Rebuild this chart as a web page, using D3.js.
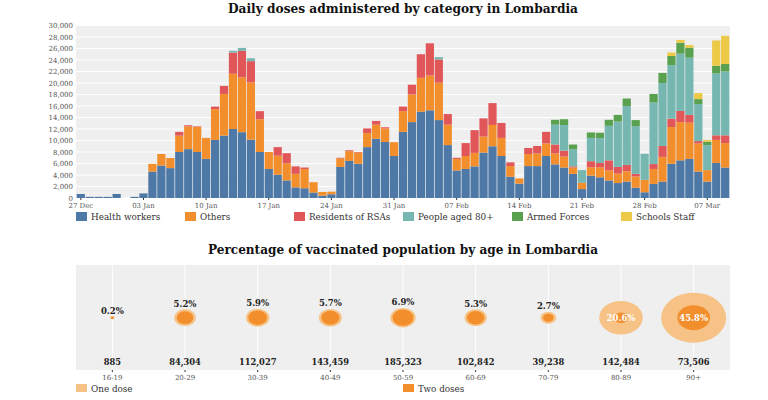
<!DOCTYPE html>
<meta charset="utf-8">
<script src="https://d3js.org/d3.v7.min.js"></script>

<style>
body { margin: 0; background: #fff; }
text { font-family: "DejaVu Serif", serif; }
.graphTitle { font-size: 12.5px; font-weight: 700; fill: #111; }
.axisText { font-size: 7px; fill: #555; }
.legendText { font-size: 8.8px; fill: #333; }
.pct { font-size: 8.5px; font-weight: 700; fill: #222; }
.total { font-size: 8.3px; font-weight: 700; fill: #222; }
</style>

<div id="my_dataviz"></div>

<script>

// daily doses, 27 Dec to 09 Mar
const days = d3.timeDay.range(new Date(2020, 11, 27), new Date(2021, 2, 10));
const healthWorkers = [700,200,200,200,700,0,200,800,4600,5650,5200,8000,8500,8000,6800,10100,10850,12000,11450,10150,8000,5050,4050,3050,1850,1700,950,400,650,5400,6450,5950,8850,10300,9750,7300,11500,13200,15000,15250,13550,9200,4800,5050,5500,7900,9000,7300,3700,2500,5550,5550,7300,5850,5300,4200,1550,3900,3600,3050,2600,2850,1800,1000,2450,2850,5950,6550,6800,4600,2850,6100,5300];
const others = [0,0,0,0,0,0,0,0,1350,2000,1750,2850,3950,4350,3650,5350,7250,9600,9550,9950,5700,2950,3300,3000,2350,3350,1800,650,450,1500,1700,1950,2450,2450,2350,2400,3600,4800,5900,6050,6500,3550,2000,2250,2350,2800,3700,3150,1850,900,2100,2200,2200,1900,1900,1100,1100,1450,1750,1750,1650,1800,1950,2150,2600,4300,6400,6650,6300,4900,2000,4000,4250];
const residents = [0,0,0,0,0,0,0,0,0,0,0,650,200,100,0,450,1400,3700,4600,3700,1400,0,1500,1750,1300,250,0,0,0,100,150,100,800,650,200,0,800,1700,4100,5600,4050,1850,200,2250,3950,3150,3800,2600,650,0,1050,1300,2000,1550,1050,200,0,1050,750,1750,1150,1100,450,0,850,1900,1450,1950,1350,400,0,800,1350];
const aged80 = [0,0,0,0,0,0,0,0,0,0,0,0,0,0,0,0,0,300,500,500,0,0,0,0,0,0,0,0,0,0,0,0,0,0,0,0,0,0,0,0,400,0,0,0,0,0,0,0,0,0,0,0,0,3450,4450,3000,2200,4050,4300,6000,7900,10250,8300,4550,10700,10950,9300,9950,9950,6450,4350,10750,11100];
const armedForces = [0,0,0,0,0,0,0,0,0,0,0,0,0,0,0,0,0,0,0,0,0,0,0,0,0,0,0,0,0,0,0,0,0,0,0,0,0,0,0,0,0,0,0,0,0,0,0,0,0,0,0,0,0,850,1000,800,0,950,950,1050,1150,1300,1050,0,1500,1750,1600,1900,1750,850,600,1350,1300];
const schoolsStaff = [0,0,0,0,0,0,0,0,0,0,0,0,0,0,0,0,0,0,0,0,0,0,0,0,0,0,0,0,0,0,0,0,0,0,0,0,0,0,0,0,0,0,0,0,0,0,0,0,0,0,0,0,0,0,0,0,0,0,0,0,0,0,0,0,0,0,600,500,450,1050,300,4400,4900];
const categories = ["Health workers", "Others", "Residents of RSAs", "People aged 80+", "Armed Forces", "Schools Staff"];
const categorySeries = [healthWorkers, others, residents, aged80, armedForces, schoolsStaff];
const categoryColors = ["#4e79a7", "#f28e2b", "#e15759", "#76b7b2", "#59a14f", "#edc948"];
const yTicks = d3.range(0, 30001, 2000);

// vaccinated population by age
const ageGroups = ["16-19", "20-29", "30-39", "40-49", "50-59", "60-69", "70-79", "80-89", "90+"];
const oneDose = [0.2, 5.2, 5.9, 5.7, 6.9, 5.3, 2.7, 20.6, 45.8];
const twoDoses = [0.1, 3.0, 3.8, 3.6, 4.8, 3.3, 1.2, 2.0, 11.5];
const ageTotals = [885, 84304, 112027, 143459, 185323, 102842, 39238, 142484, 73506];
const doseLabels = ["One dose", "Two doses"];
const doseColors = ["#f6c285", "#f28e2b"];

const svg = d3.select("#my_dataviz")
  .append("svg")
    .attr("width", 768)
    .attr("height", 400)
    .style("display", "block");

const plotLeft = 76, plotRight = 730;
// the picture is stretched sideways, so circles come out as ellipses
const stretch = 1.3;

// ---- top chart ----
svg.append("text")
    .attr("class", "graphTitle")
    .attr("text-anchor", "middle")
    .attr("x", 403)
    .attr("y", 13)
    .attr("textLength", 350)
    .attr("lengthAdjust", "spacingAndGlyphs")
    .text("Daily doses administered by category in Lombardia");

const y = d3.scaleLinear().domain([0, 30000]).range([198, 25.5]);
const x = d3.scaleBand().domain(days).range([plotLeft, plotRight]).padding(0.08);

svg.append("rect")
    .attr("x", plotLeft).attr("y", 26)
    .attr("width", plotRight - plotLeft).attr("height", 172)
    .attr("fill", "#efefef");

svg.append("g")
    .selectAll("line")
    .data(yTicks)
    .join("line")
    .attr("x1", plotLeft).attr("x2", plotRight)
    .attr("y1", d => y(d)).attr("y2", d => y(d))
    .attr("stroke", "#fff").attr("stroke-width", 1);

const yAxis = svg.append("g")
    .attr("transform", `translate(${plotLeft}, 0)`)
    .call(d3.axisLeft(y).tickValues(yTicks).tickSize(0).tickPadding(3).tickFormat(d3.format(",")));
yAxis.select(".domain").remove();
yAxis.selectAll("text").attr("class", "axisText");

const stack = d3.stack()
    .keys(d3.range(categories.length))
    .value((d, k) => categorySeries[k][d]);

svg.append("g")
    .selectAll("g")
    .data(stack(d3.range(days.length)))
    .join("g")
    .attr("fill", (d, i) => categoryColors[i])
    .selectAll("rect")
    .data(d => d)
    .join("rect")
    .attr("x", d => x(days[d.data]))
    .attr("y", d => y(d[1]))
    .attr("width", x.bandwidth())
    .attr("height", d => y(d[0]) - y(d[1]));

const xAxis = svg.append("g")
    .attr("transform", "translate(0, 198)")
    .call(d3.axisBottom(x)
      .tickValues(days.filter((d, i) => i % 7 === 0))
      .tickSize(2).tickPadding(3)
      .tickFormat(d3.timeFormat("%d %b")));
xAxis.select(".domain").remove();
xAxis.selectAll("text").attr("class", "axisText");
xAxis.selectAll("line").attr("stroke", "#333");

const catLegend = d3.scaleBand().domain(categories).range([plotLeft, plotRight]);
const catItems = svg.append("g").selectAll("g").data(categories).join("g")
    .attr("transform", d => `translate(${catLegend(d)}, 212)`);
catItems.append("rect")
    .attr("width", 11).attr("height", 9)
    .attr("fill", (d, i) => categoryColors[i]);
catItems.append("text")
    .attr("class", "legendText")
    .attr("x", 15).attr("y", 8)
    .text(d => d);

// ---- bottom chart ----
svg.append("text")
    .attr("class", "graphTitle")
    .attr("text-anchor", "middle")
    .attr("x", 403)
    .attr("y", 253.5)
    .attr("textLength", 390)
    .attr("lengthAdjust", "spacingAndGlyphs")
    .text("Percentage of vaccinated population by age in Lombardia");

const xAge = d3.scaleBand().domain(ageGroups).range([plotLeft, plotRight]);
const r = d3.scaleSqrt().domain([0, 45.8]).range([0, 32.5]);
const cy = 317.7;

svg.append("rect")
    .attr("x", plotLeft).attr("y", 265)
    .attr("width", plotRight - plotLeft).attr("height", 105)
    .attr("fill", "#efefef");

svg.append("g").selectAll("line").data(ageGroups).join("line")
    .attr("x1", d => xAge(d) + xAge.bandwidth() / 2)
    .attr("x2", d => xAge(d) + xAge.bandwidth() / 2)
    .attr("y1", 265).attr("y2", 370)
    .attr("stroke", "#fff").attr("stroke-width", 1);

const ages = svg.append("g").selectAll("g").data(ageGroups).join("g")
    .attr("transform", d => `translate(${xAge(d) + xAge.bandwidth() / 2}, 0)`);

ages.append("ellipse")
    .attr("cy", cy)
    .attr("rx", (d, i) => r(oneDose[i]))
    .attr("ry", (d, i) => r(oneDose[i]) / stretch)
    .attr("fill", doseColors[0]);
ages.append("ellipse")
    .attr("cy", cy)
    .attr("rx", (d, i) => r(twoDoses[i]))
    .attr("ry", (d, i) => r(twoDoses[i]) / stretch)
    .attr("fill", doseColors[1]);

ages.append("text")
    .attr("class", "pct")
    .attr("text-anchor", "middle")
    .attr("y", (d, i) => oneDose[i] > 15 ? cy + 3 : cy - r(oneDose[i]) / stretch - 2.5)
    .style("fill", (d, i) => oneDose[i] > 15 ? "#fff" : null)
    .text((d, i) => oneDose[i].toFixed(1) + "%");

ages.append("text")
    .attr("class", "total")
    .attr("text-anchor", "middle")
    .attr("y", 365)
    .text((d, i) => d3.format(",")(ageTotals[i]));

const ageAxis = svg.append("g")
    .attr("transform", "translate(0, 370)")
    .call(d3.axisBottom(xAge).tickSize(2).tickPadding(3));
ageAxis.select(".domain").remove();
ageAxis.selectAll("text").attr("class", "axisText");
ageAxis.selectAll("line").attr("stroke", "#333");

const doseItems = svg.append("g").selectAll("g").data(doseLabels).join("g")
    .attr("transform", (d, i) => `translate(${plotLeft + i * 327}, 384)`);
doseItems.append("rect")
    .attr("width", 11).attr("height", 8)
    .attr("fill", (d, i) => doseColors[i]);
doseItems.append("text")
    .attr("class", "legendText")
    .attr("x", 15).attr("y", 8)
    .text(d => d);

</script>
